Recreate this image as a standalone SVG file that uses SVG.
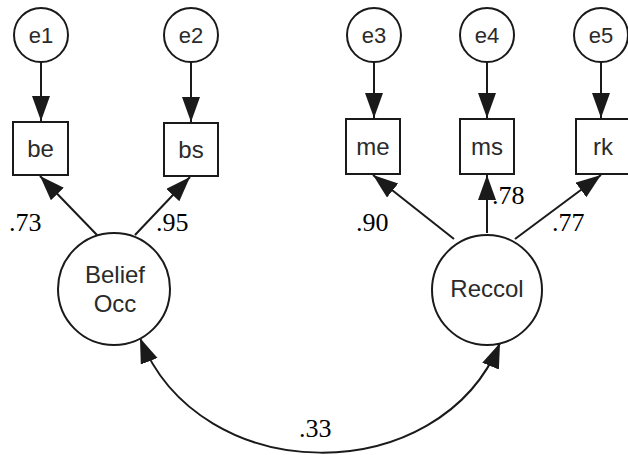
<svg xmlns="http://www.w3.org/2000/svg" width="628" height="455" viewBox="0 0 628 455">
<style>
.n{fill:#fff;stroke:#1a1a1a;stroke-width:2}
.c{fill:none;stroke:#1a1a1a;stroke-width:2}
.t{font-family:"Liberation Sans",Arial,sans-serif;fill:#2a2a2a;text-anchor:middle}
.e{font-size:22px}
.b{font-size:24px}
.l{font-size:24px}
.v{font-family:"Liberation Serif","Times New Roman",serif;font-size:26px;fill:#000}
</style>
<defs>
<marker id="ah" markerUnits="userSpaceOnUse" markerWidth="26" markerHeight="20" refX="25" refY="9" orient="auto-start-reverse">
<path d="M0,0 L25,9 L0,18 z" fill="#1a1a1a"/>
</marker>
</defs>
<rect width="628" height="455" fill="#fff"/>
<g id="connectors">
<line class="c" x1="41" y1="62" x2="41" y2="121" marker-end="url(#ah)"/>
<line class="c" x1="191" y1="62" x2="191" y2="122" marker-end="url(#ah)"/>
<line class="c" x1="374" y1="62" x2="374" y2="118" marker-end="url(#ah)"/>
<line class="c" x1="487" y1="62" x2="487" y2="118" marker-end="url(#ah)"/>
<line class="c" x1="601" y1="62" x2="601" y2="118" marker-end="url(#ah)"/>
<line class="c" x1="97" y1="235" x2="40" y2="176" marker-end="url(#ah)"/>
<line class="c" x1="135" y1="235" x2="190" y2="177" marker-end="url(#ah)"/>
<line class="c" x1="454" y1="239" x2="373" y2="175" marker-end="url(#ah)"/>
<line class="c" x1="487" y1="233" x2="487" y2="175" marker-end="url(#ah)"/>
<line class="c" x1="515" y1="239" x2="601" y2="175" marker-end="url(#ah)"/>
<path class="c" d="M140,338 C200,490 440,490 500,343" marker-start="url(#ah)" marker-end="url(#ah)"/>
</g>
<g id="e1"><circle class="n" cx="41" cy="35" r="27"/><text class="t e" x="41" y="43">e1</text></g>
<g id="e2"><circle class="n" cx="191" cy="35" r="27"/><text class="t e" x="191" y="43">e2</text></g>
<g id="e3"><circle class="n" cx="374" cy="35" r="27"/><text class="t e" x="374" y="43">e3</text></g>
<g id="e4"><circle class="n" cx="487" cy="35" r="27"/><text class="t e" x="487" y="43">e4</text></g>
<g id="e5"><circle class="n" cx="601" cy="35" r="27"/><text class="t e" x="601" y="43">e5</text></g>
<g id="be"><rect class="n" x="13" y="122" width="55" height="53"/><text class="t b" x="40.5" y="157">be</text></g>
<g id="bs"><rect class="n" x="164" y="123" width="54" height="53"/><text class="t b" x="191" y="158">bs</text></g>
<g id="me"><rect class="n" x="346" y="119" width="54" height="55"/><text class="t b" x="373" y="155">me</text></g>
<g id="ms"><rect class="n" x="460" y="119" width="54" height="55"/><text class="t b" x="487" y="155">ms</text></g>
<g id="rk"><rect class="n" x="576" y="119" width="54" height="55"/><text class="t b" x="603" y="155">rk</text></g>
<g id="belief"><circle class="n" cx="114" cy="289" r="56"/><text class="t l" x="115" y="283">Belief</text><text class="t l" x="115" y="312">Occ</text></g>
<g id="reccol"><circle class="n" cx="487" cy="290" r="55"/><text class="t l" x="487" y="297">Reccol</text></g>
<g id="labels">
<text class="v" x="9" y="231">.73</text>
<text class="v" x="156" y="231">.95</text>
<text class="v" x="356" y="231">.90</text>
<text class="v" x="492" y="204">.78</text>
<text class="v" x="552" y="231">.77</text>
<text class="v" x="299" y="437">.33</text>
</g>
</svg>
